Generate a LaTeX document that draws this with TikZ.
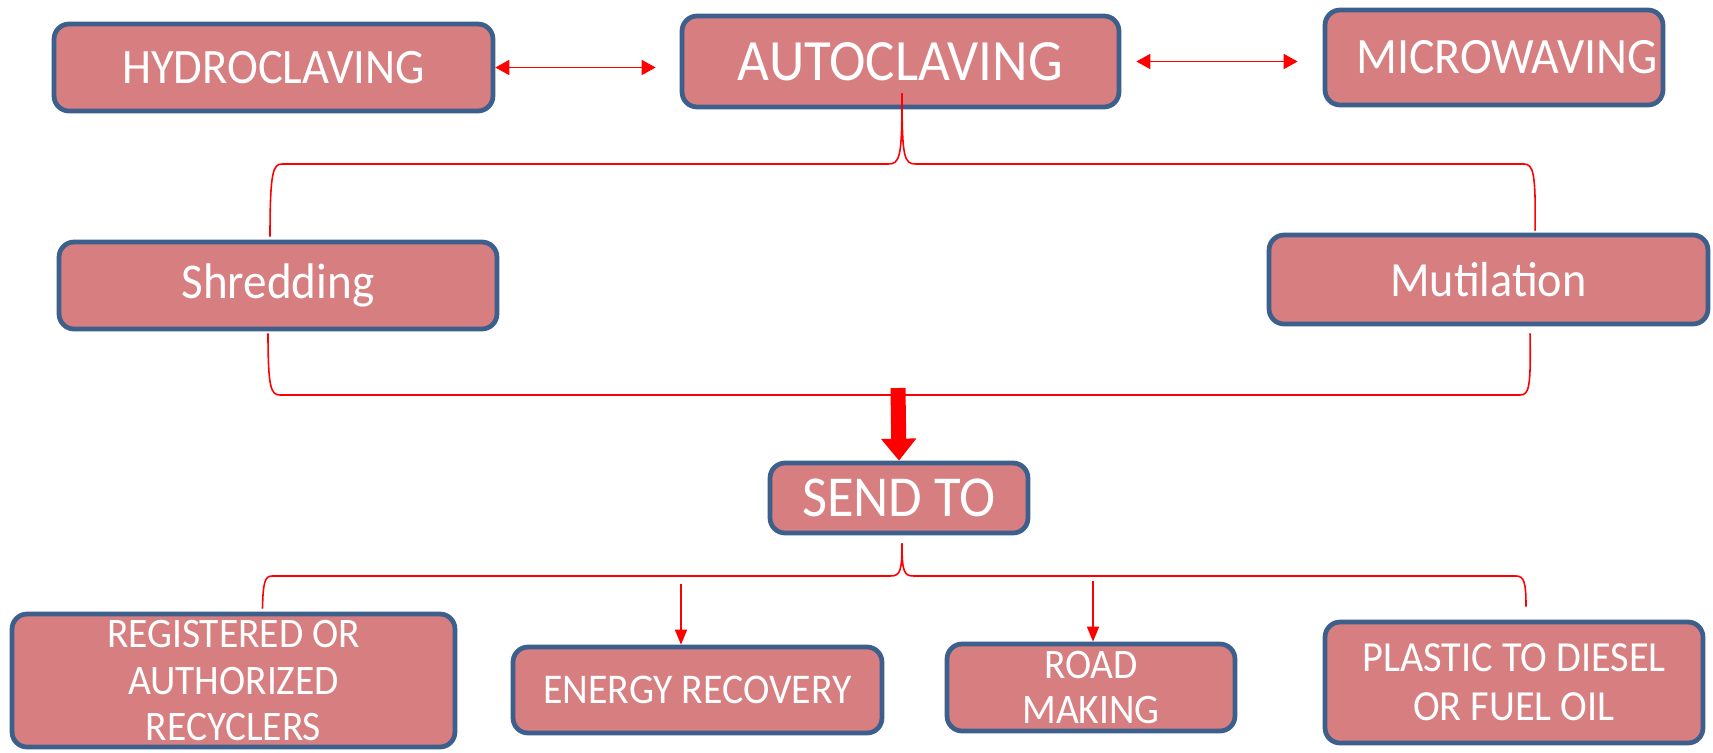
\documentclass[tikz,border=0pt]{standalone}
\usepackage{fontspec}
\setmainfont{Carlito}[FakeStretch=0.94]
\usepackage{tikz}
\usetikzlibrary{
  calc,%
  arrows.meta,%
  positioning
}
\definecolor{boxpink}{RGB}{215,126,128}
\definecolor{boxblue}{RGB}{60,95,140}
\tikzset{>=latex}
\tikzset{box/.style={draw=boxblue, fill=boxpink, line width=2.7pt,
    rounded corners=0.3cm, text=white, align=center, inner sep=0pt}}
\tikzset{brace/.style={red, line width=0.9pt}}
\tikzset{arr/.style={red, line width=0.9pt,
    -{Triangle[length=0.3cm, width=0.24cm]}}}
\tikzset{twoway/.style={red, line width=1pt,
    {Triangle[length=0.28cm, width=0.3cm]}-{Triangle[length=0.28cm, width=0.3cm]}}}

\begin{document}
\begin{tikzpicture}[x=0.02cm, y=-0.02cm]
  \useasboundingbox[fill=white] (0,0) rectangle (1713,752);

  % top row
  \node[box, minimum width=8.78cm, minimum height=1.74cm,
    font=\fontsize{28.2}{32}\selectfont] (hydro) at (273.5,67.5) {HYDROCLAVING};
  \node[box, minimum width=8.74cm, minimum height=1.82cm,
    font=\fontsize{33.3}{36}\selectfont] (auto) at (900.5,61.5) {AUTOCLAVING};
  \node[box, minimum width=6.76cm, minimum height=1.90cm,
    font=\fontsize{29}{32}\selectfont] (micro) at (1494,57.5) {\hspace*{0.52cm}MICROWAVING};

  % processes
  \node[box, minimum width=8.76cm, minimum height=1.74cm,
    font=\fontsize{28.5}{32}\selectfont] (shred) at (278,285.5) {Shredding};
  \node[box, minimum width=8.78cm, minimum height=1.78cm,
    font=\fontsize{28}{32}\selectfont] (mutil) at (1488.5,279.5) {Mutilation};

  \node[box, minimum width=5.16cm, minimum height=1.40cm,
    font=\fontsize{33}{36}\selectfont] (send) at (899,498) {SEND TO};

  % destinations
  \node[box, minimum width=8.86cm, minimum height=2.66cm,
    font=\fontsize{23.9}{26.5}\selectfont] (recyc) at (233.5,680.5)
    {REGISTERED OR\\AUTHORIZED\\RECYCLERS};
  \node[box, minimum width=7.38cm, minimum height=1.72cm,
    font=\fontsize{24.1}{27}\selectfont] (energy) at (697.5,690) {ENERGY RECOVERY};
  \node[box, minimum width=5.76cm, minimum height=1.74cm,
    font=\fontsize{23.9}{26}\selectfont] (road) at (1091,687.5) {ROAD\\MAKING};
  \node[box, minimum width=7.56cm, minimum height=2.42cm,
    font=\fontsize{24.4}{27.9}\selectfont] (plastic) at (1514,682.5)
    {PLASTIC TO DIESEL\\OR FUEL OIL};

  \draw[twoway] (hydro.east) -- ($(hydro.east -| auto.west)+(-24,0)$);
  \draw[twoway] ($(auto.east)+(15,0)$) -- ($(auto.east -| micro.west)+(-25,0)$);

  % brace below AUTOCLAVING
  \coordinate (top) at ($(auto.south)+(1.5,-16)$);
  \draw[brace] (top) .. controls (902,158) and (900,164) .. (888,164)
    -- (282,164) .. controls (273,164) and (270,172) .. ($(shred.north)+(-8,-3)$);
  \draw[brace] (top) .. controls (902,158) and (904,164) .. (916,164)
    -- (1524,164) .. controls (1533,164) and (1536,172) .. ($(mutil.north)+(46.5,-2)$);

  % brace below the two processes
  \draw[brace] ($(shred.south)+(-10,2)$) .. controls (268,388) and (271,395) .. (280,395)
    -- (1520,395) .. controls (1529,395) and (1531,388) .. ($(mutil.south)+(41.5,7)$);

  \coordinate (join) at (898,388);
  \draw[red, line width=0.3cm, -{Triangle[length=0.44cm, width=0.68cm]}]
    (join) -- (send.north);

  % brace below SEND TO
  \coordinate (fork) at ($(send.south)+(3,8)$);
  \draw[brace] (fork) .. controls (902,572) and (900,576) .. (890,576)
    -- (272,576) .. controls (265,576) and (263,582) .. ($(recyc.north)+(29,-3)$);
  \draw[brace] (fork) .. controls (902,572) and (904,576) .. (914,576)
    -- (1516,576) .. controls (1524,576) and (1526,582) .. ($(plastic.north)+(12,-13)$);

  \draw[arr] ($(energy.north)+(-16.5,-61)$) -- ($(energy.north)+(-16.5,0)$);
  \draw[arr] ($(road.north)+(2,-61)$) -- ($(road.north)+(2,0)$);
\end{tikzpicture}
\end{document}
